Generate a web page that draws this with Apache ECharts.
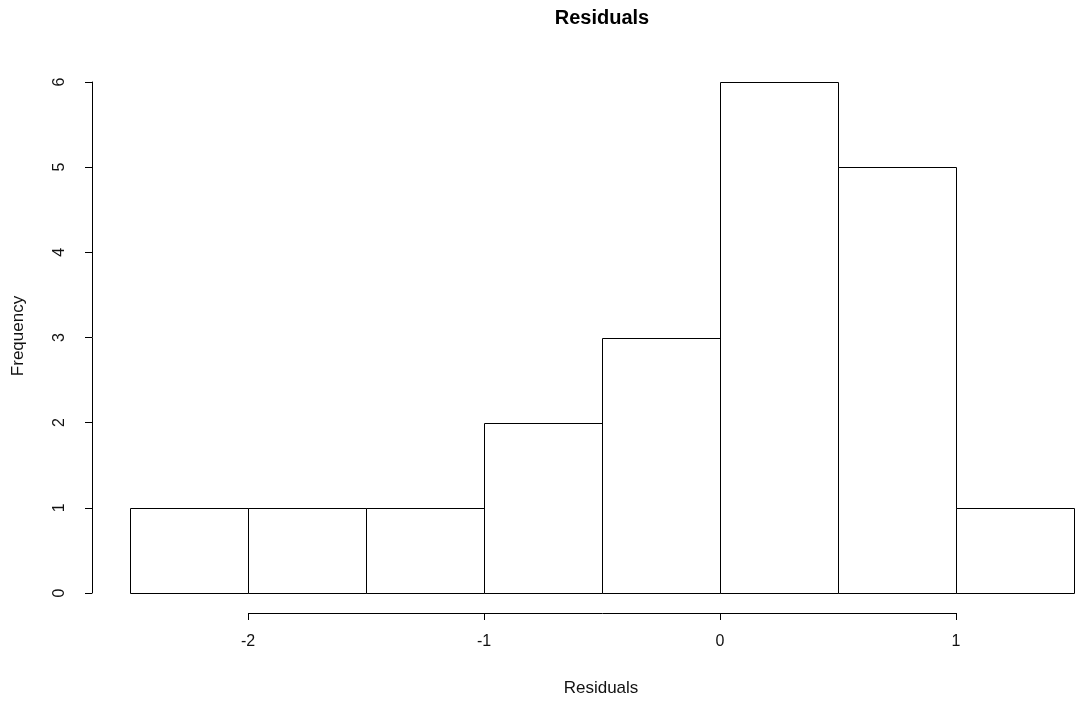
<!DOCTYPE html>
<html><head><meta charset="utf-8">
<script src="https://cdn.jsdelivr.net/npm/echarts@6/dist/echarts.min.js"></script>
<style>html,body{margin:0;padding:0;background:#fff}#c{width:1079px;height:703px}</style>
</head><body><div id="c"></div>
<script>
const binStarts = [-2.5, -2.0, -1.5, -1.0, -0.5, 0.0, 0.5, 1.0];
const binEnds   = [-2.0, -1.5, -1.0, -0.5, 0.0, 0.5, 1.0, 1.5];
const counts    = [1, 1, 1, 2, 3, 6, 5, 1];
const xTicks = [-2, -1, 0, 1];
const yTicks = [0, 1, 2, 3, 4, 5, 6];
const titleText = 'Residuals';
const xTitle = 'Residuals';
const yTitle = 'Frequency';

const font = 'Liberation Sans, Arial, sans-serif';
const chart = echarts.init(document.getElementById('c'), null, {renderer: 'canvas'});
const barData = binStarts.map((s, i) => [s, binEnds[i], counts[i]]);
const X_OFF = 20;

chart.setOption({
  animation: false,
  backgroundColor: '#fff',
  grid: {left: 130, right: 5, top: 82, bottom: 110, containLabel: false},
  xAxis: {
    type: 'value', min: -2.5, max: 1.5, offset: X_OFF,
    splitLine: {show: false},
    axisLine: {show: false, onZero: false},
    axisTick: {show: true, customValues: xTicks, length: 7, lineStyle: {color: '#000'}},
    axisLabel: {show: true, customValues: xTicks, margin: 21, fontSize: 16, color: '#111', fontFamily: font,
      formatter: v => String(v)}
  },
  yAxis: {
    type: 'value', min: 0, max: 6, interval: 1, offset: 38,
    splitLine: {show: false},
    axisLine: {show: true, onZero: false, lineStyle: {color: '#000', width: 1}},
    axisTick: {show: true, customValues: yTicks, length: 7, lineStyle: {color: '#000'}},
    axisLabel: {rotate: 90, customValues: yTicks, margin: 24, fontSize: 16, color: '#111', fontFamily: font,
      formatter: v => String(v)}
  },
  graphic: [
    {type: 'text', x: 602, y: 18,
      style: {text: titleText, font: 'bold 20px ' + font, fill: '#000', align: 'center', verticalAlign: 'middle'}},
    {type: 'text', x: 601, y: 688,
      style: {text: xTitle, font: '17px ' + font, fill: '#111', align: 'center', verticalAlign: 'middle'}},
    {type: 'text', x: 18, y: 336, rotation: Math.PI / 2,
      style: {text: yTitle, font: '17px ' + font, fill: '#111', align: 'center', verticalAlign: 'middle'}}
  ],
  series: [
    {
      type: 'custom', clip: false,
      data: barData,
      renderItem: (params, api) => {
        const p0 = api.coord([api.value(0), api.value(2)]);
        const p1 = api.coord([api.value(1), 0]);
        const x0 = Math.round(p0[0]) + 0.5, x1 = Math.round(p1[0]) + 0.5;
        const y0 = Math.round(p0[1]) + 0.5, y1 = Math.round(p1[1]) + 0.5;
        return {type: 'rect', shape: {x: x0, y: y0, width: x1 - x0, height: y1 - y0},
          style: {fill: '#fff', stroke: '#000', lineWidth: 1}};
      }
    },
    {
      type: 'custom', clip: false,
      data: [[xTicks[0], xTicks[xTicks.length - 1]]],
      renderItem: (params, api) => {
        const a = api.coord([api.value(0), 0]);
        const b = api.coord([api.value(1), 0]);
        const y = Math.round(a[1] + X_OFF) + 0.5;
        return {type: 'line', shape: {x1: Math.round(a[0]), y1: y, x2: Math.round(b[0]) + 1, y2: y},
          style: {stroke: '#000', lineWidth: 1}};
      }
    }
  ]
});
</script></body></html>
